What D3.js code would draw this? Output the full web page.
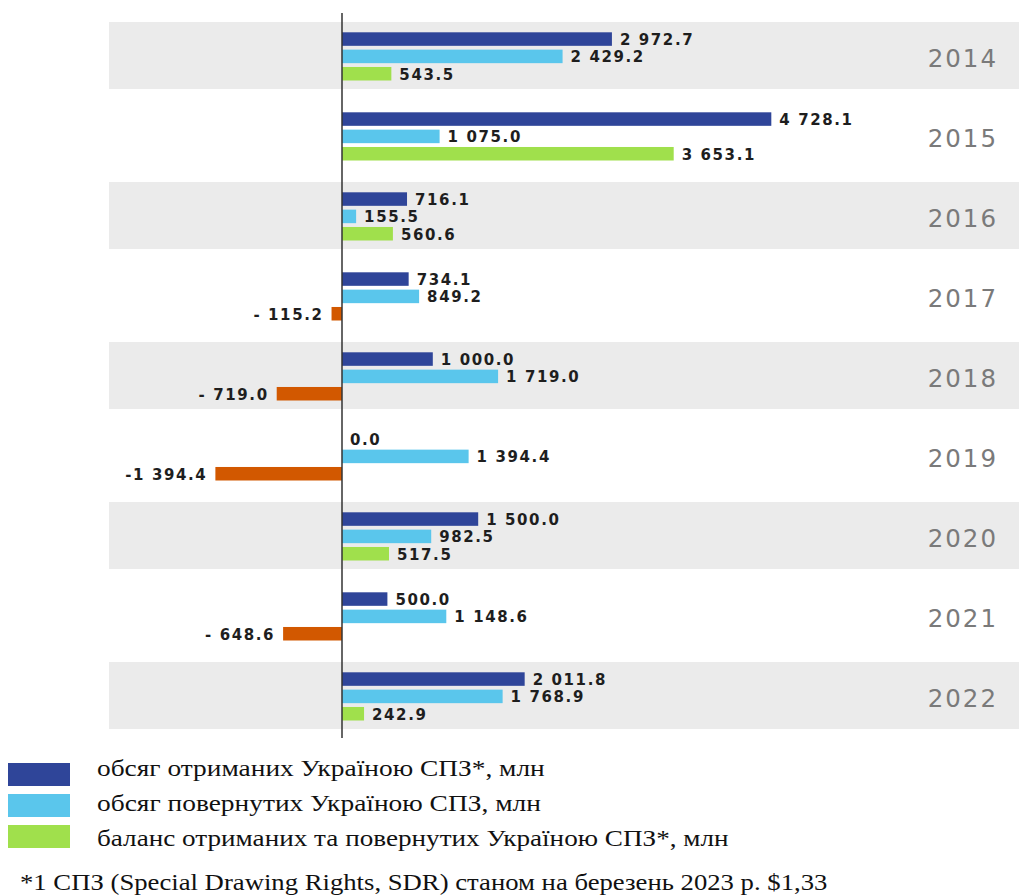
<!DOCTYPE html>
<meta charset="utf-8">
<style>
  body { margin: 0; background: #fff; }
  .val { font-family: "DejaVu Sans", sans-serif; font-size: 15px; font-weight: bold; fill: #1e1e1e; letter-spacing: 1.6px; }
  .year { font-family: "DejaVu Sans", sans-serif; font-size: 24.5px; fill: #7a7a7a; letter-spacing: 2px; }
  .leg { font-family: "Liberation Serif", "Times New Roman", serif; font-size: 23px; fill: #111; }
</style>
<body></body>
<script src="https://d3js.org/d3.v7.min.js"></script>
<script>
  // data (млн СПЗ)
  var years = ["2014", "2015", "2016", "2017", "2018", "2019", "2020", "2021", "2022"];
  var received = [2972.7, 4728.1, 716.1, 734.1, 1000.0, 0.0, 1500.0, 500.0, 2011.8];
  var returned = [2429.2, 1075.0, 155.5, 849.2, 1719.0, 1394.4, 982.5, 1148.6, 1768.9];
  var balance = [543.5, 3653.1, 560.6, -115.2, -719.0, -1394.4, 517.5, -648.6, 242.9];
  var seriesKeys = ["received", "returned", "balance"];
  var legendLabels = [
    "обсяг отриманих Україною СПЗ*, млн",
    "обсяг повернутих Україною СПЗ, млн",
    "баланс отриманих та повернутих Україною СПЗ*, млн"
  ];
  var footnote = "*1 СПЗ (Special Drawing Rights, SDR) станом на березень 2023 р. $1,33";

  var width = 1019, height = 895;
  var colors = { received: "#2f4599", returned: "#5ac6ec", balance: "#a0e04c", negative: "#d25800" };

  var svg = d3.select("body").append("svg")
    .attr("width", width)
    .attr("height", height);

  var rows = years.map(function(y, i) {
    return { year: y, received: received[i], returned: returned[i], balance: balance[i] };
  });

  var x = d3.scaleLinear()
    .domain([-1500, 5000])
    .range([342 - 1500 * 0.0908, 342 + 5000 * 0.0908]);

  var y = d3.scaleBand()
    .domain(years)
    .range([22, 742]);

  var inner = d3.scaleBand()
    .domain(seriesKeys)
    .range([10.3, 58.5])
    .paddingInner(0.22);

  // alternating grey bands
  svg.append("g").selectAll("rect")
    .data(rows.filter(function(d, i) { return i % 2 === 0; }))
    .enter().append("rect")
    .attr("x", 109)
    .attr("y", function(d) { return y(d.year); })
    .attr("width", width - 109)
    .attr("height", 67)
    .attr("fill", "#ebebeb");

  var fmtNum = d3.formatLocale({ decimal: ".", thousands: " ", grouping: [3], currency: ["", ""] }).format(",.1f");
  function fmt(v) {
    if (v < 0) return (Math.abs(v) < 1000 ? "- " : "-") + fmtNum(Math.abs(v));
    return fmtNum(v);
  }

  var groups = svg.append("g").selectAll("g")
    .data(rows)
    .enter().append("g")
    .attr("transform", function(d) { return "translate(0," + y(d.year) + ")"; });

  groups.selectAll("rect")
    .data(function(d) { return seriesKeys.map(function(k) { return { key: k, value: d[k] }; }); })
    .enter().append("rect")
    .attr("x", function(d) { return x(Math.min(0, d.value)); })
    .attr("y", function(d) { return inner(d.key); })
    .attr("width", function(d) { return Math.abs(x(d.value) - x(0)); })
    .attr("height", inner.bandwidth())
    .attr("fill", function(d) { return d.value < 0 ? colors.negative : colors[d.key]; });

  groups.selectAll("text.val")
    .data(function(d) { return seriesKeys.map(function(k) { return { key: k, value: d[k] }; }); })
    .enter().append("text")
    .attr("class", "val")
    .attr("x", function(d) { return d.value < 0 ? x(d.value) - 8 : x(d.value) + 8; })
    .attr("y", function(d) { return inner(d.key) + inner.bandwidth() / 2 + 6; })
    .attr("text-anchor", function(d) { return d.value < 0 ? "end" : "start"; })
    .text(function(d) { return fmt(d.value); });

  groups.append("text")
    .attr("class", "year")
    .attr("x", 998)
    .attr("y", 45)
    .attr("text-anchor", "end")
    .text(function(d) { return d.year; });

  // zero axis
  svg.append("line")
    .attr("x1", x(0)).attr("x2", x(0))
    .attr("y1", 13).attr("y2", 738)
    .attr("stroke", "#333")
    .attr("stroke-width", 1.5);

  // legend
  svg.append("g").selectAll("rect")
    .data(seriesKeys)
    .enter().append("rect")
    .attr("x", 8)
    .attr("y", function(d, i) { return 763 + i * 31; })
    .attr("width", 62)
    .attr("height", 23)
    .attr("fill", function(d) { return colors[d]; });

  // serif text fitted to the widths in the picture
  function fit(sel, x0, y0, w) {
    var n = sel.node().getComputedTextLength();
    sel.attr("transform", "translate(" + x0 + "," + y0 + ") scale(" + (w / n) + ",1)");
  }

  var legWidths = [448, 444, 632];
  legendLabels.forEach(function(t, i) {
    var txt = svg.append("text").attr("class", "leg").text(t);
    fit(txt, 97, 776 + i * 35, legWidths[i]);
  });

  var foot = svg.append("text").attr("class", "leg").text(footnote);
  fit(foot, 20, 890, 808);
</script>
